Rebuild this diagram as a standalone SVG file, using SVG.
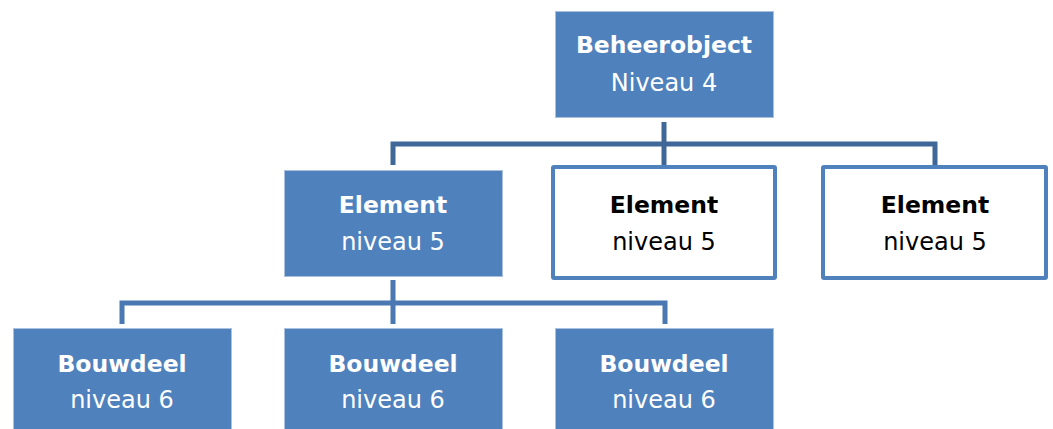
<svg xmlns="http://www.w3.org/2000/svg" width="1053" height="429" viewBox="0 0 1053 429">
<style>
.fill{fill:#4f81bd;stroke:#a9c0de;stroke-width:1}
.out{fill:#ffffff;stroke:#4f81bd;stroke-width:4}
.t{font-family:"DejaVu Sans",Verdana,sans-serif;font-size:24px;text-anchor:middle}
.b{font-weight:bold;font-size:23.5px}
.w{fill:#ffffff}
.k{fill:#000000}
.c1{fill:none;stroke:#3f6898;stroke-width:5}
.c2{fill:none;stroke:#4a78b2;stroke-width:5}
</style>
<rect width="1053" height="429" fill="#ffffff"/>
<g id="connectors">
<path class="c1" d="M664 122V144M393 165V144H935V165M664 144V165"/>
<path class="c2" d="M393 280V303M122 324V303H665V324M393 303V324"/>
</g>
<g id="beheerobject">
<rect class="fill" x="555.5" y="11.5" width="218" height="106"/>
<text class="t b w" x="664" y="53">Beheerobject</text>
<text class="t w" x="664" y="91">Niveau 4</text>
</g>
<g id="element1">
<rect class="fill" x="284.5" y="170.5" width="218" height="106"/>
<text class="t b w" x="393" y="213">Element</text>
<text class="t w" x="393" y="250">niveau 5</text>
</g>
<g id="element2">
<rect class="out" x="553" y="167" width="222" height="111" rx="1"/>
<text class="t b k" x="664" y="213">Element</text>
<text class="t k" x="664" y="250">niveau 5</text>
</g>
<g id="element3">
<rect class="out" x="823" y="167" width="223" height="111" rx="1"/>
<text class="t b k" x="935" y="213">Element</text>
<text class="t k" x="935" y="250">niveau 5</text>
</g>
<g id="bouwdeel1">
<rect class="fill" x="13.5" y="328.5" width="218" height="106"/>
<text class="t b w" x="122" y="372">Bouwdeel</text>
<text class="t w" x="122" y="408">niveau 6</text>
</g>
<g id="bouwdeel2">
<rect class="fill" x="284.5" y="328.5" width="218" height="106"/>
<text class="t b w" x="393" y="372">Bouwdeel</text>
<text class="t w" x="393" y="408">niveau 6</text>
</g>
<g id="bouwdeel3">
<rect class="fill" x="555.5" y="328.5" width="218" height="106"/>
<text class="t b w" x="664" y="372">Bouwdeel</text>
<text class="t w" x="664" y="408">niveau 6</text>
</g>
</svg>
